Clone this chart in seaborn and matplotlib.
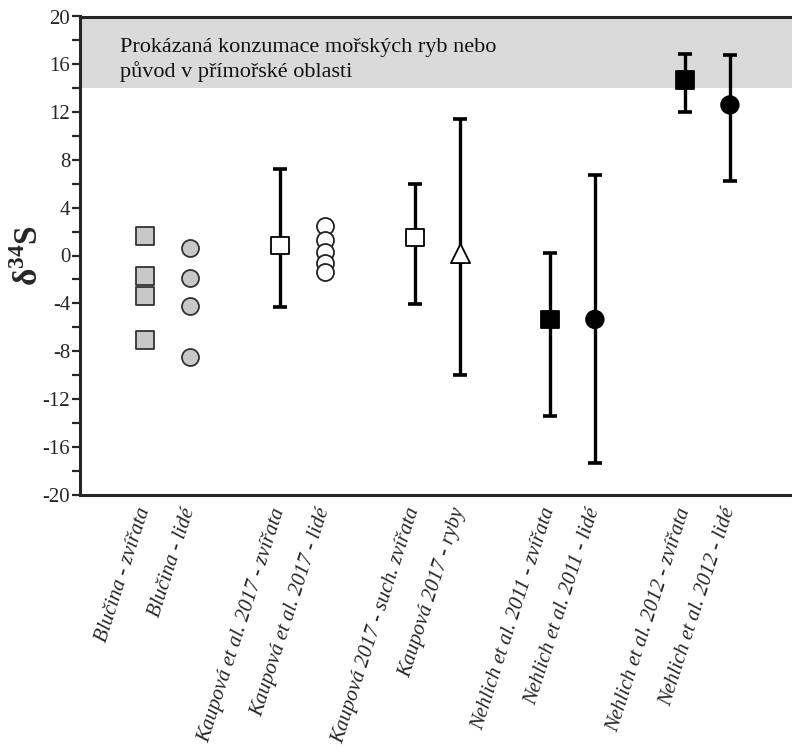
import matplotlib
matplotlib.use("Agg")
import matplotlib.pyplot as plt
import pandas as pd
import seaborn as sns

# popisky kategorií a jejich pozice na ose x
labels = ["Blučina - zvířata", "Blučina - lidé",
          "Kaupová et al. 2017 - zvířata", "Kaupová et al. 2017 - lidé",
          "Kaupová 2017 - such. zvířata", "Kaupová 2017 - ryby",
          "Nehlich et al. 2011 - zvířata", "Nehlich et al. 2011 - lidé",
          "Nehlich et al. 2012 - zvířata", "Nehlich et al. 2012 - lidé"]
xpos = [0, 1, 3, 4, 6, 7, 9, 10, 12, 13]

# jednotlivé hodnoty
blucinaZvirata = [1.6, -1.7, -3.35, -7.1]
blucinaLide = [0.65, -1.9, -4.2, -8.5]
kaupovaLide = [2.5, 1.3, 0.3, -0.6, -1.4]

# souhrnné hodnoty (průměr + rozsah)
sumX = [3, 6, 7, 9, 10, 12, 13]
sumMean = [0.85, 1.5, 0.25, -5.35, -5.35, 14.7, 12.6]
sumLow = [-4.35, -4.05, -10.0, -13.4, -17.4, 12.0, 6.2]
sumHigh = [7.2, 6.0, 11.45, 0.2, 6.75, 16.9, 16.8]
sumMarker = ['s', 's', '^', 's', 'o', 's', 'o']
sumFill = ['white', 'white', 'white', 'black', 'black', 'black', 'black']

sns.set_style("ticks")
plt.rcParams['font.family'] = ['Liberation Serif', 'DejaVu Serif']
plt.rcParams['mathtext.fontset'] = 'custom'
plt.rcParams['mathtext.rm'] = 'Liberation Serif'
plt.rcParams['mathtext.bf'] = 'Liberation Serif:bold'
plt.rcParams['axes.unicode_minus'] = False

fig = plt.figure(figsize=(7.92, 7.53), dpi=100)
ax = fig.add_axes([80 / 792, 1 - 494.5 / 753, 712 / 792, 478 / 753])

ax.axhspan(14, 20, color='#dadada', lw=0, zorder=0)
ax.text(-0.56, 18.2, "Prokázaná konzumace mořských ryb nebo\npůvod v přímořské oblasti",
        fontsize=16, va='top', ha='left', linespacing=1.25, color='#111111')

pts = pd.DataFrame({
    'x': [xpos[0]] * len(blucinaZvirata) + [xpos[1]] * len(blucinaLide) + [xpos[3]] * len(kaupovaLide),
    'y': blucinaZvirata + blucinaLide + kaupovaLide,
    'skupina': ['zv'] * len(blucinaZvirata) + ['li'] * len(blucinaLide) + ['kl'] * len(kaupovaLide),
})
sns.scatterplot(data=pts[pts.skupina == 'zv'], x='x', y='y', marker='s', s=150,
                color='#c8c8c8', edgecolor='#333333', linewidth=1.3, ax=ax, zorder=3)
sns.scatterplot(data=pts[pts.skupina == 'li'], x='x', y='y', marker='o', s=150,
                color='#c8c8c8', edgecolor='#333333', linewidth=1.3, ax=ax, zorder=3)
sns.scatterplot(data=pts[pts.skupina == 'kl'], x='x', y='y', marker='o', s=150,
                color='white', edgecolor='#222222', linewidth=1.3, ax=ax, zorder=3)

# chybové úsečky
for x, m, lo, hi in zip(sumX, sumMean, sumLow, sumHigh):
    ax.errorbar([x], [m], yerr=[[m - lo], [hi - m]], fmt='none', ecolor='black',
                elinewidth=2.4, capsize=5, capthick=2.6, zorder=2)

summary = pd.DataFrame({'x': sumX, 'y': sumMean, 'marker': sumMarker, 'fill': sumFill})
for mk in summary['marker'].unique():
    sub = summary[summary['marker'] == mk]
    size = 190 if mk == '^' else 160
    sns.scatterplot(data=sub, x='x', y='y', marker=mk, s=size, c=sub['fill'].tolist(),
                    edgecolor='black', linewidth=1.3, ax=ax, zorder=4)

ax.set_xlim(-1.44, 14.38)
ax.set_ylim(-20, 20)
ax.set_yticks(range(-20, 21, 4))
ax.set_yticks(range(-18, 20, 4), minor=True)
ax.set_xticks(xpos)
ax.set_xticklabels(labels, rotation=72, ha='right', va='center', rotation_mode='anchor',
                   fontstyle='italic', fontsize=15)
ax.tick_params(axis='x', length=0, pad=10)
ax.tick_params(axis='y', which='major', length=6, width=1.6, labelsize=15, direction='out', pad=1)
ax.tick_params(axis='y', which='minor', length=6, width=1.6, direction='out')
ax.set_xlabel("")
ax.set_ylabel(r"δ$^{\mathbf{34}}$S", fontsize=24, fontweight='bold', va='center')
ax.yaxis.set_label_coords(-0.072, 0.5)

for side in ['left', 'top', 'bottom']:
    ax.spines[side].set_linewidth(2.2)
ax.spines['right'].set_visible(False)

fig.savefig("out.png", dpi=100)
